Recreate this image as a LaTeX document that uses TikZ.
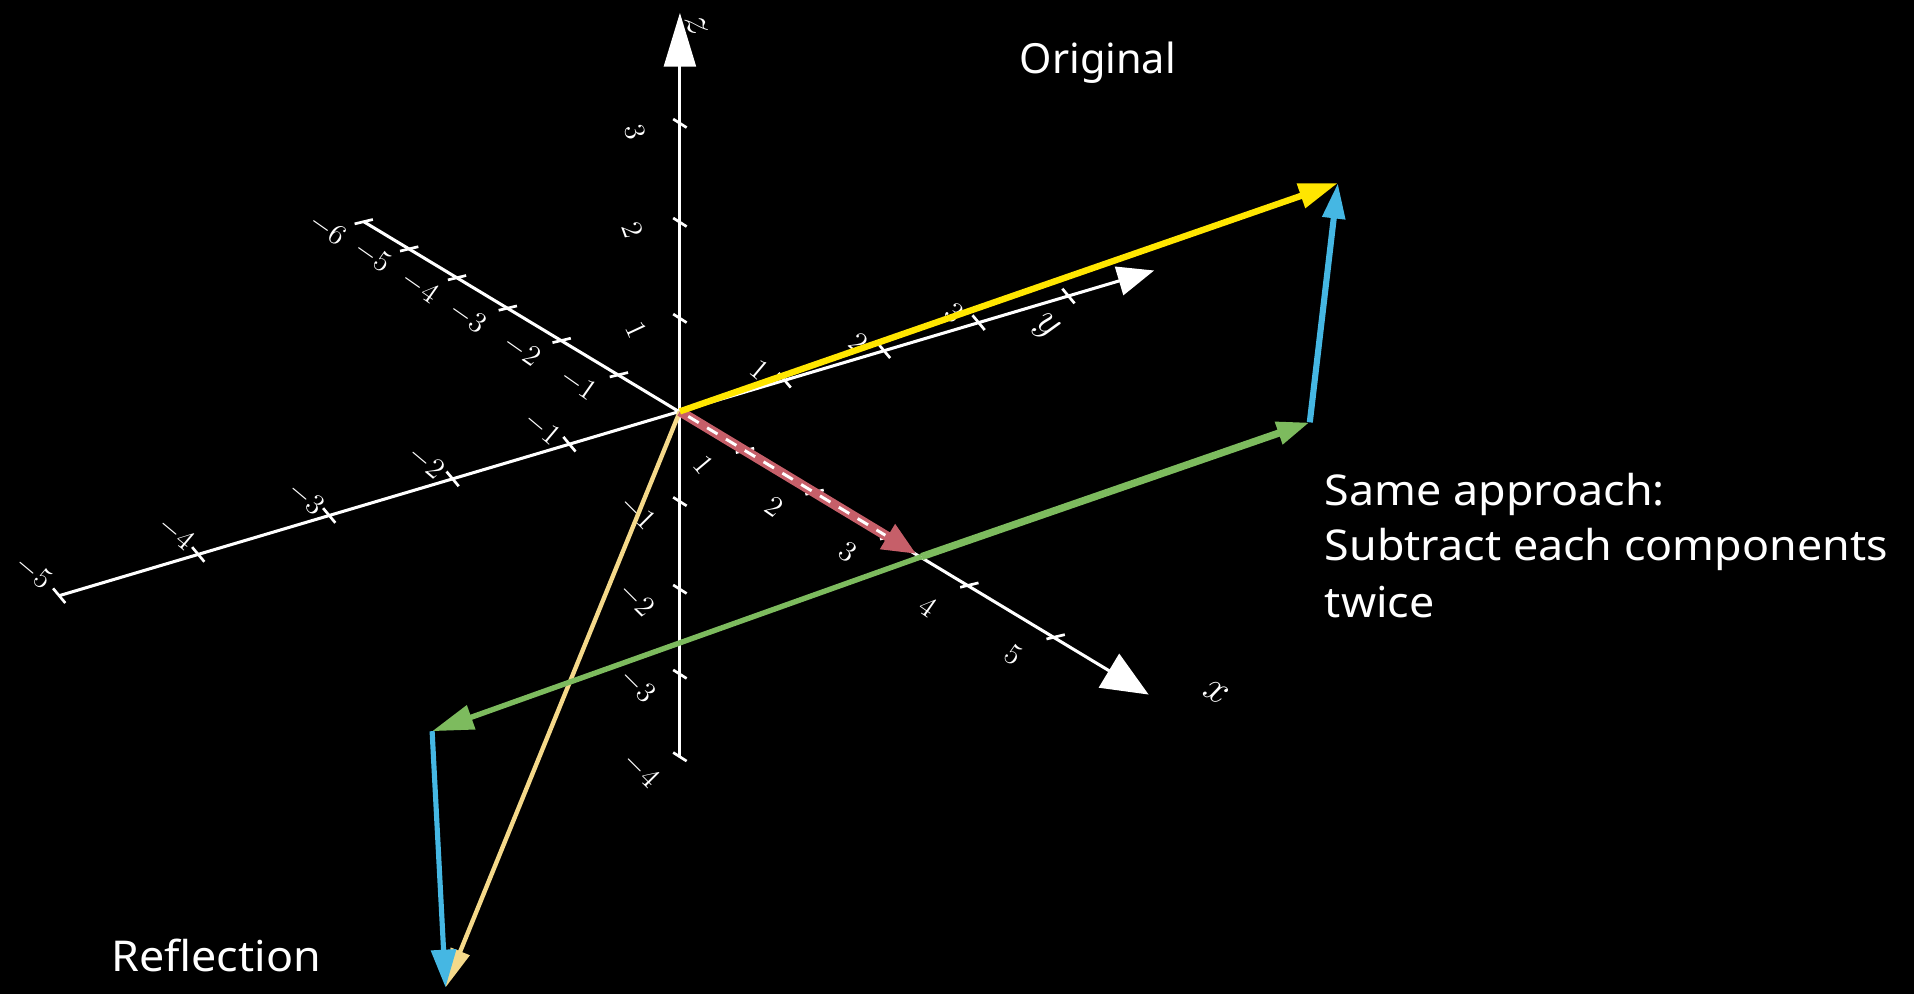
\documentclass[tikz,border=0pt]{standalone}
\usepackage{fontspec}
\newfontfamily\titlefont{Noto Sans}
\newfontfamily\bodyfont{Noto Sans}[FakeStretch=1.055]
\usetikzlibrary{arrows.meta}
\definecolor{vyellow}{HTML}{FFE600}
\definecolor{vpale}{HTML}{F5D98A}
\definecolor{vblue}{HTML}{45B7E3}
\definecolor{vgreen}{HTML}{7DBB5E}
\definecolor{vred}{HTML}{C65F69}
\tikzset{
  axisline/.style={white, line width=1.25pt},
  tickline/.style={white, line width=1.1pt},
  ticklabel/.style={white, inner sep=0pt, font=\fontsize{11.5}{11.5}\selectfont},
  axislabel/.style={white, inner sep=0pt, font=\fontsize{17}{17}\selectfont},
  caption/.style={white, inner sep=0pt, anchor=base west},
}
\begin{document}
\begin{tikzpicture}[x=0.5pt,y=-0.5pt]
\fill[black] (0,0) rectangle (1568,814);
\useasboundingbox (0,0) rectangle (1568,814);

\coordinate (O) at (557,337);
% x axis points
\coordinate (xm6) at (298,181.6);
\coordinate (xm5) at (335.2,203.9);
\coordinate (xm4) at (374.4,227.5);
\coordinate (xm3) at (416.0,252.4);
\coordinate (xm2) at (460.1,278.9);
\coordinate (xm1) at (507.0,307.0);
\coordinate (xp1) at (610.3,369.0);
\coordinate (xp2) at (667.3,403.2);
\coordinate (xp3) at (728.4,439.8);
\coordinate (xp4) at (794.1,479.3);
\coordinate (xp5) at (864.8,521.7);
\coordinate (xend) at (941,569);
% y axis points
\coordinate (ym5) at (48.5,488);
\coordinate (ym4) at (162.4,454.2);
\coordinate (ym3) at (269.7,422.3);
\coordinate (ym2) at (370.8,392.3);
\coordinate (ym1) at (466.5,363.9);
\coordinate (yp1) at (642.8,311.5);
\coordinate (yp2) at (724.2,287.3);
\coordinate (yp3) at (801.7,264.3);
\coordinate (yp4) at (875.3,242.5);
\coordinate (yend) at (945.5,221.6);
% z axis points
\coordinate (zm4) at (557,620);
\coordinate (zm3) at (557,552.3);
\coordinate (zm2) at (557,482.7);
\coordinate (zm1) at (557,410.9);
\coordinate (zp1) at (557,260.8);
\coordinate (zp2) at (557,182.1);
\coordinate (zp3) at (557,101);
\coordinate (zend) at (557,10.5);

% axes
\draw[axisline, -{Triangle[length=19pt,width=16pt]}] (xm6) -- (xend);
\draw[axisline, -{Triangle[length=15pt,width=12pt]}] (ym5) -- (yend);
\draw[axisline, -{Triangle[length=22pt,width=13pt]}] (zm4) -- (zend);

% ticks
\foreach \p in {xm6,xm5,xm4,xm3,xm2,xm1,xp1,xp2,xp3,xp4,xp5}
  \draw[tickline] ([shift={(-7.5,1.8)}]\p) -- ([shift={(7.5,-1.8)}]\p);
\foreach \p in {ym5,ym4,ym3,ym2,ym1,yp1,yp2,yp3,yp4}
  \draw[tickline] ([shift={(-5,-6)}]\p) -- ([shift={(5,6)}]\p);
\foreach \p in {zm4,zm3,zm2,zm1,zp1,zp2,zp3}
  \draw[tickline] ([shift={(-5.5,-3.5)}]\p) -- ([shift={(5.5,3.5)}]\p);

% tick labels x
\node[ticklabel, rotate=-35] (lxm6) at (268,188) {$-6$};
\node[ticklabel, rotate=-35] (lxm5) at (305,210) {$-5$};
\node[ticklabel, rotate=-35] (lxm4) at (344,235) {$-4$};
\node[ticklabel, rotate=-35] (lxm3) at (383,260) {$-3$};
\node[ticklabel, rotate=-35] (lxm2) at (427.5,287) {$-2$};
\node[ticklabel, rotate=-35] (lxm1) at (473.5,315) {$-1$};
\node[ticklabel, rotate=-50] (lxp1) at (576,381) {$1$};
\node[ticklabel, rotate=-35] (lxp2) at (634,415) {$2$};
\node[ticklabel, rotate=-35] (lxp3) at (694.5,452) {$3$};
\node[ticklabel, rotate=-35] (lxp4) at (760,497) {$4$};
\node[ticklabel, rotate=-35] (lxp5) at (830,536.6) {$5$};
\node[axislabel, rotate=-30] (lx) at (996,567) {$x$};
% tick labels y
\node[ticklabel, rotate=-40] (lym5) at (27.4,469) {$-5$};
\node[ticklabel, rotate=-40] (lym4) at (144,437) {$-4$};
\node[ticklabel, rotate=-40] (lym3) at (250.5,408) {$-3$};
\node[ticklabel, rotate=-40] (lym2) at (349,378.5) {$-2$};
\node[ticklabel, rotate=-40] (lym1) at (444,351) {$-1$};
\node[ticklabel, rotate=-40] (lyp1) at (622,303) {$1$};
\node[ticklabel, rotate=-40] (lyp2) at (703,281) {$2$};
\node[ticklabel, rotate=-40] (lyp3) at (781.5,256.5) {$3$};
\node[axislabel, rotate=-40] (ly) at (857,268) {$y$};
% tick labels z
\node[ticklabel, rotate=-75] (lzp3) at (520,108) {$3$};
\node[ticklabel, rotate=-70] (lzp2) at (518,188.5) {$2$};
\node[ticklabel, rotate=-65] (lzp1) at (521,270) {$1$};
\node[ticklabel, rotate=-45] (lzm1) at (522,420) {$-1$};
\node[ticklabel, rotate=-45] (lzm2) at (521,491.5) {$-2$};
\node[ticklabel, rotate=-45] (lzm3) at (522,562) {$-3$};
\node[ticklabel, rotate=-45] (lzm4) at (525,631) {$-4$};
\node[axislabel, rotate=-70] (lz) at (571,21) {$z$};

% vector points
\coordinate (A) at (1096,150);
\coordinate (R) at (751,454);
\coordinate (P) at (755,456);
\coordinate (G) at (1073,346);
\coordinate (G2) at (354,599);
\coordinate (B) at (365,809);

% reflection vectors
\draw[vpale, line width=1.8pt, -{Triangle[length=16pt,width=8pt]}] (O) -- (B);
\draw[vgreen, line width=2.2pt, -{Triangle[length=17pt,width=10pt]}] (P) -- (G2);
\draw[vblue, line width=2.1pt, -{Triangle[length=15.5pt,width=10pt]}] (G2) -- (B);

% original vectors
\draw[vred, line width=4pt, -{Triangle[length=14pt,width=11pt]}] (O) -- (R);
\draw[white, line width=1.2pt, dash pattern=on 5pt off 4pt, shorten >=15pt, shorten <=4pt] (O) -- (R);
\draw[vgreen, line width=3pt, -{Triangle[length=13.5pt,width=9pt]}] (P) -- (G);
\draw[vblue, line width=2.5pt, -{Triangle[length=14.5pt,width=9pt]}] (G) -- (A);
\draw[vyellow, line width=2.6pt, -{Triangle[length=16pt,width=10pt]}] (O) -- (A);

% captions
\node[caption, font=\titlefont\fontsize{17}{20}\selectfont] (orig) at (835,60) {Original};
\node[caption, font=\bodyfont\fontsize{17.4}{20}\selectfont] (s1) at (1085,414) {Same approach:};
\node[caption, font=\bodyfont\fontsize{17.4}{20}\selectfont] (s2) at (1085,459) {Subtract each components};
\node[caption, font=\bodyfont\fontsize{17.4}{20}\selectfont] (s3) at (1085,506) {twice};
\node[caption, font=\bodyfont\fontsize{17.4}{20}\selectfont] (refl) at (91,796) {Reflection};
\end{tikzpicture}
\end{document}
